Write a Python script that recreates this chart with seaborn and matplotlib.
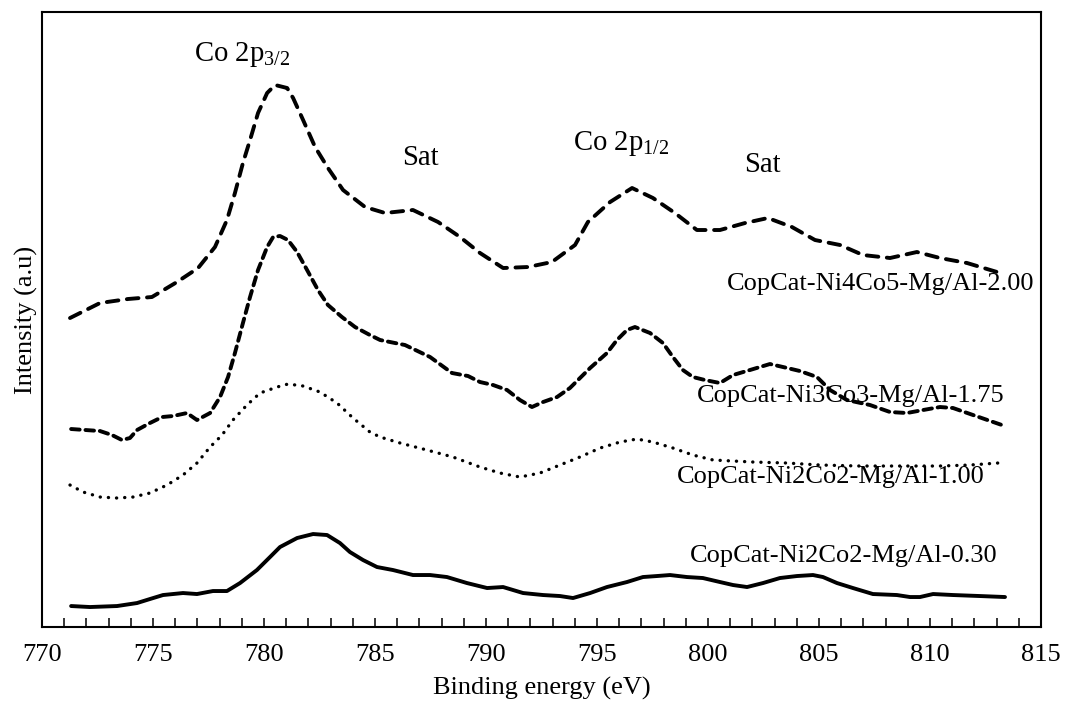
import numpy as np
import matplotlib
matplotlib.use("Agg")
import matplotlib.pyplot as plt
import seaborn as sns

# Binding energy (eV) and intensity (a.u., stacked) for each catalyst
energy_ni4co5_200 = [771.26, 772.61, 773.87, 774.95, 776.08, 777.03, 777.79, 778.33, 778.69, 779.05,
                     779.37, 779.73, 780.14, 780.50, 781.04, 781.31, 781.76, 782.30, 782.88, 783.56,
                     784.55, 785.45, 786.71, 787.84, 788.83, 789.73, 790.77, 791.89, 792.97, 794.01,
                     794.59, 795.59, 796.58, 797.52, 798.51, 799.50, 800.54, 801.67, 802.70, 803.78,
                     804.82, 805.95, 806.98, 808.20, 809.41, 810.45, 811.67, 813.02]
inten_ni4co5_200 = [309, 324, 328, 330, 345, 359, 380, 407, 434, 464,
                    487, 514, 534, 542, 539, 529, 507, 480, 459, 437,
                    420, 414, 417, 405, 390, 374, 359, 360, 365, 382,
                    405, 425, 439, 429, 414, 397, 397, 404, 409, 400,
                    387, 382, 372, 369, 375, 369, 364, 355]

energy_ni3co3_175 = [771.31, 772.61, 773.15, 773.60, 773.96, 774.28, 774.86, 775.41, 775.90, 776.53,
                     776.98, 777.57, 778.02, 778.38, 778.69, 779.05, 779.37, 779.73, 780.14, 780.41,
                     780.72, 781.08, 781.49, 781.94, 782.43, 782.88, 783.51, 784.10, 784.77, 785.23,
                     786.35, 787.48, 788.47, 789.19, 789.73, 790.32, 790.95, 791.53, 792.07, 792.57,
                     793.20, 793.78, 794.69, 795.45, 795.90, 796.35, 796.71, 797.39, 797.97, 798.42,
                     798.87, 799.32, 799.86, 800.54, 801.13, 801.89, 802.79, 803.38, 804.14, 804.91,
                     805.50, 806.26, 807.30, 808.20, 808.96, 809.69, 810.45, 811.04, 811.94, 813.24]
inten_ni3co3_175 = [198, 196, 192, 187, 189, 197, 204, 210, 211, 214,
                    207, 214, 230, 250, 274, 304, 330, 357, 380, 390,
                    391, 387, 375, 357, 337, 322, 310, 300, 292, 287,
                    282, 270, 254, 251, 245, 242, 237, 227, 220, 225,
                    230, 239, 259, 274, 287, 297, 300, 294, 284, 270,
                    257, 250, 247, 244, 252, 257, 263, 260, 256, 250,
                    237, 227, 222, 215, 214, 217, 220, 219, 212, 202]

energy_ni2co2_100 = [771.26, 771.85, 772.61, 773.38, 774.10, 774.86, 775.63, 776.35, 776.98, 777.57,
                     778.11, 778.60, 779.23, 779.82, 780.59, 781.08, 781.76, 782.52, 783.29, 784.01,
                     784.77, 785.23, 786.13, 787.34, 788.51, 789.73, 790.63, 791.53, 792.43, 793.33,
                     794.23, 795.14, 796.04, 796.80, 797.52, 798.42, 799.32, 800.23, 802.03, 803.56,
                     805.05, 806.85, 808.65, 810.45, 811.80, 813.06]
inten_ni2co2_100 = [142, 135, 130, 129, 130, 134, 142, 152, 164, 180,
                    192, 207, 222, 234, 240, 243, 241, 235, 224, 209,
                    195, 190, 184, 177, 170, 160, 154, 150, 154, 162,
                    170, 179, 185, 188, 185, 179, 172, 167, 165, 164,
                    162, 161, 161, 161, 162, 164]

energy_ni2co2_030 = [771.31, 772.16, 773.38, 774.28, 774.86, 775.45, 776.35, 776.98, 777.70, 778.33,
                     778.92, 779.68, 780.27, 780.72, 781.49, 782.21, 782.84, 783.42, 783.87, 784.46,
                     785.09, 785.81, 786.71, 787.48, 788.24, 789.14, 790.05, 790.77, 791.67, 792.57,
                     793.33, 793.92, 794.69, 795.45, 796.35, 797.07, 797.70, 798.29, 799.05, 799.77,
                     800.54, 801.13, 801.76, 802.48, 803.24, 804.01, 804.73, 805.18, 805.81, 806.53,
                     807.43, 808.51, 809.10, 809.55, 810.14, 811.04, 812.25, 813.38]
inten_ni2co2_030 = [21, 20, 21, 24, 28, 32, 34, 33, 36, 36,
                    44, 57, 70, 80, 89, 93, 92, 84, 75, 67,
                    60, 57, 52, 52, 50, 44, 39, 40, 34, 32,
                    31, 29, 34, 40, 45, 50, 51, 52, 50, 49,
                    45, 42, 40, 44, 49, 51, 52, 50, 44, 39,
                    33, 32, 30, 30, 33, 32, 31, 30]

sample_names = ["CopCat-Ni4Co5-Mg/Al-2.00", "CopCat-Ni3Co3-Mg/Al-1.75",
                "CopCat-Ni2Co2-Mg/Al-1.00", "CopCat-Ni2Co2-Mg/Al-0.30"]
peak_labels = ["Co 2p$_{\\mathrm{3/2}}$", "Sat", "Co 2p$_{\\mathrm{1/2}}$", "Sat"]
x_ticks = [770, 775, 780, 785, 790, 795, 800, 805, 810, 815]

sns.set_theme(style="white")
plt.rcParams["font.family"] = ["Liberation Serif", "DejaVu Serif"]
plt.rcParams["mathtext.fontset"] = "custom"
plt.rcParams["mathtext.rm"] = "Liberation Serif"
plt.rcParams["mathtext.it"] = "Liberation Serif:italic"

FS = 19
FS_PEAK = 20.7
fig = plt.figure(figsize=(10.67, 7.14), dpi=100)
ax = fig.add_axes([0.0394, 0.1218, 0.9362, 0.8614])

series = [
    (energy_ni4co5_200, inten_ni4co5_200, (3.0, 2.2), 2.8),
    (energy_ni3co3_175, inten_ni3co3_175, (2.2, 1.5), 2.8),
    (energy_ni2co2_100, inten_ni2co2_100, (0.05, 2.4), 2.4),
    (energy_ni2co2_030, inten_ni2co2_030, None, 2.8),
]
for e, i, dash, lw in series:
    sns.lineplot(x=e, y=i, ax=ax, color="black", linewidth=lw,
                 sort=False, estimator=None)
    line = ax.lines[-1]
    if dash is not None:
        line.set_dashes(dash)
        line.set_dash_capstyle("round")
    line.set_solid_capstyle("round")

# sample names, right-aligned near the end of each spectrum
name_pos = [(814.71, 337), (813.36, 225), (812.46, 144), (813.05, 65)]
for name, (xp, yp) in zip(sample_names, name_pos):
    ax.text(xp, yp, name, ha="right", va="baseline", fontsize=FS, color="black")

# peak assignments
peak_pos = [(776.84, 566), (786.21, 462), (793.91, 477), (801.61, 455)]
for lab, (xp, yp) in zip(peak_labels, peak_pos):
    ax.text(xp, yp, lab, ha="left", va="baseline", fontsize=FS_PEAK, color="black")

ax.set_xlim(770, 815)
ax.set_ylim(0, 615)
ax.set_xticks(x_ticks)
ax.set_xticks(np.arange(770, 816, 1), minor=True)
ax.set_yticks([])
ax.tick_params(axis="x", which="both", direction="in", length=6.5, width=1.1,
               color="black", bottom=True, top=False, labelsize=FS, pad=12,
               labelcolor="black")
for sp in ax.spines.values():
    sp.set_visible(True)
    sp.set_color("black")
    sp.set_linewidth(1.5)

ax.set_xlabel("Binding energy (eV)", fontsize=FS, color="black")
ax.set_ylabel("Intensity (a.u)", fontsize=FS, color="black")
ax.xaxis.set_label_coords(0.5, -0.081)
ax.yaxis.set_label_coords(-0.004, 0.5)

fig.savefig("out.png", dpi=100, facecolor="white")
